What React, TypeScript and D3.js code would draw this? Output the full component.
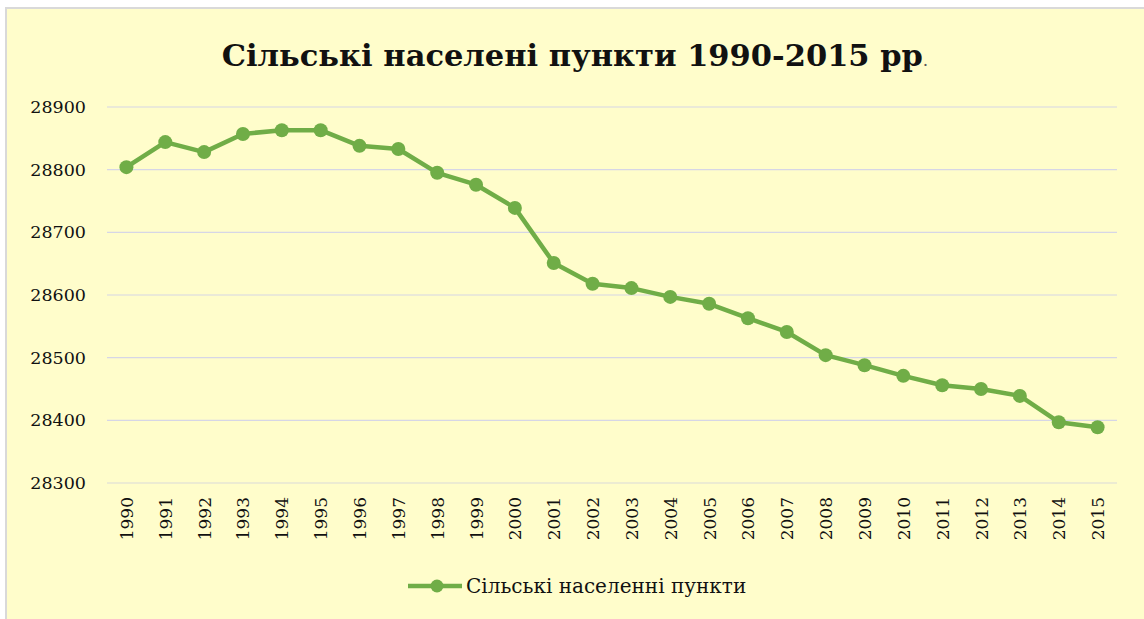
import { useEffect, useRef } from 'react';
import * as d3 from 'd3';

const years = [
  '1990', '1991', '1992', '1993', '1994', '1995', '1996', '1997', '1998',
  '1999', '2000', '2001', '2002', '2003', '2004', '2005', '2006', '2007',
  '2008', '2009', '2010', '2011', '2012', '2013', '2014', '2015',
];
const settlements = [
  28804, 28844, 28828, 28857, 28863, 28863, 28838, 28833, 28795, 28776,
  28739, 28651, 28618, 28611, 28597, 28586, 28563, 28541, 28504, 28488,
  28471, 28456, 28450, 28439, 28397, 28389,
];
const yTicks = [28300, 28400, 28500, 28600, 28700, 28800, 28900];

const WIDTH = 1144;
const HEIGHT = 619;
const PLOT = { left: 107, right: 1117, top: 107, bottom: 483 };
const GREEN = '#70AD47';
const FONT = '"DejaVu Serif", "Liberation Serif", serif';

export default function App() {
  const svgRef = useRef<SVGSVGElement>(null);

  useEffect(() => {
    if (!svgRef.current) return;
    const svg = d3.select(svgRef.current);
    svg.selectAll('*').remove();

    // Chart area (clipped at the right and bottom edge of the page)
    svg.append('rect')
      .attr('x', 6)
      .attr('y', 8)
      .attr('width', WIDTH)
      .attr('height', HEIGHT)
      .attr('fill', '#FFFDCB')
      .attr('stroke', '#D9D9D9')
      .attr('stroke-width', 2);

    const x = d3.scaleBand<string>()
      .domain(years)
      .range([PLOT.left, PLOT.right]);
    const y = d3.scaleLinear()
      .domain([28300, 28900])
      .range([PLOT.bottom, PLOT.top]);
    const cx = (d: string) => x(d)! + x.bandwidth() / 2;

    // Title
    const title = svg.append('text')
      .attr('x', 575)
      .attr('y', 66)
      .attr('text-anchor', 'middle')
      .attr('font-family', FONT)
      .attr('font-size', 30.5)
      .attr('font-weight', 'bold')
      .attr('fill', '#111');
    title.append('tspan').text('Сільські населені пункти 1990-2015 рр');
    title.append('tspan')
      .attr('font-size', 17)
      .attr('font-weight', 'normal')
      .attr('fill', '#555')
      .text('.');

    // Gridlines
    svg.append('g')
      .selectAll('line')
      .data(yTicks)
      .join('line')
      .attr('x1', PLOT.left)
      .attr('x2', PLOT.right)
      .attr('y1', (d) => y(d))
      .attr('y2', (d) => y(d))
      .attr('stroke', (d) => (d === 28300 ? '#D9D9D9' : '#D6D6E6'))
      .attr('stroke-width', 1.2);

    // Y tick labels
    svg.append('g')
      .selectAll('text')
      .data(yTicks)
      .join('text')
      .attr('x', 86)
      .attr('y', (d) => y(d) + 6)
      .attr('text-anchor', 'end')
      .attr('font-family', FONT)
      .attr('font-size', 17.5)
      .attr('fill', '#111')
      .text((d) => d);

    // X tick labels (rotated)
    svg.append('g')
      .selectAll('text')
      .data(years)
      .join('text')
      .attr('transform', (d) => `translate(${cx(d) + 6.5},497) rotate(-90)`)
      .attr('text-anchor', 'end')
      .attr('font-family', FONT)
      .attr('font-size', 17)
      .attr('fill', '#111')
      .text((d) => d);

    // Line
    const line = d3.line<number>()
      .x((_, i) => cx(years[i]))
      .y((d) => y(d));
    svg.append('path')
      .datum(settlements)
      .attr('d', line)
      .attr('fill', 'none')
      .attr('stroke', GREEN)
      .attr('stroke-width', 4.5)
      .attr('stroke-linejoin', 'round');

    svg.append('g')
      .selectAll('circle')
      .data(settlements)
      .join('circle')
      .attr('cx', (_, i) => cx(years[i]))
      .attr('cy', (d) => y(d))
      .attr('r', 7)
      .attr('fill', GREEN);

    // Legend
    const legend = svg.append('g').attr('transform', 'translate(408,586)');
    legend.append('line')
      .attr('x1', 0)
      .attr('x2', 54)
      .attr('stroke', GREEN)
      .attr('stroke-width', 4.5);
    legend.append('circle')
      .attr('cx', 29)
      .attr('r', 6.5)
      .attr('fill', GREEN);
    legend.append('text')
      .attr('x', 58)
      .attr('y', 7)
      .attr('font-family', FONT)
      .attr('font-size', 20)
      .attr('fill', '#111')
      .text('Сільські населенні пункти');
  }, []);

  return (
    <svg
      ref={svgRef}
      width={WIDTH}
      height={HEIGHT}
      style={{ position: 'absolute', left: 0, top: 0, background: '#fff' }}
    />
  );
}
